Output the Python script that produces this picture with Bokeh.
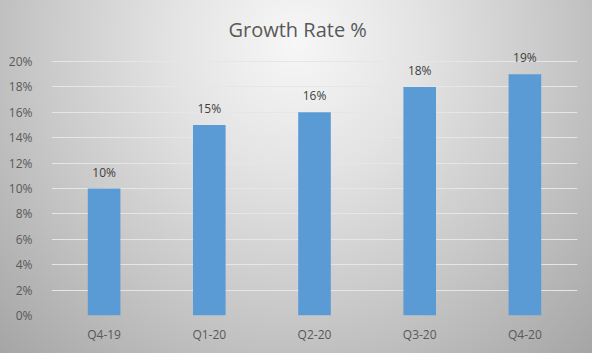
from bokeh.plotting import figure
from bokeh.models import ColumnDataSource, NumeralTickFormatter, Title, LabelSet
from bokeh.core.properties import value
from bokeh.embed import file_html
from bokeh.resources import INLINE

quarters = ["Q4-19", "Q1-20", "Q2-20", "Q3-20", "Q4-20"]
growth = [0.10, 0.15, 0.16, 0.18, 0.19]
labels = ["10%", "15%", "16%", "18%", "19%"]
y_ticks = [0.0, 0.02, 0.04, 0.06, 0.08, 0.10, 0.12, 0.14, 0.16, 0.18, 0.20]

src = ColumnDataSource(dict(q=quarters, g=growth, lab=labels))

FONT = "Open Sans"
GREY = "#595959"

p = figure(x_range=quarters, y_range=(0, 0.2134), width=592, height=353,
           output_backend="svg", toolbar_location=None,
           min_border_left=51, min_border_right=15, min_border_top=44, min_border_bottom=38)
p.styles = {"background": "radial-gradient(ellipse farthest-corner at 50% 12%, #f7f7f7 0%, #e3e3e3 30%, #c8c8c8 62%, #a5a5a5 100%)"}
p.background_fill_alpha = 0
p.border_fill_alpha = 0
p.outline_line_color = None

p.vbar(x="q", top="g", width=0.31, source=src, fill_color="#5b9bd5", line_color=None)
lbls = LabelSet(x="q", y="g", text="lab", source=src, text_align="center", text_baseline="bottom",
                y_offset=8, text_font=value(FONT), text_font_size=value("12px"), text_color=value("#404040"))
p.add_layout(lbls)

t = Title(text="Growth Rate %", align="left", text_font=FONT, text_font_size="20px",
          text_font_style="normal", text_color=GREY, offset=177, standoff=3)
p.add_layout(t, "above")

p.yaxis.ticker = y_ticks
p.yaxis.formatter = NumeralTickFormatter(format="0%")
for ax in (p.xaxis, p.yaxis):
    ax.axis_line_color = None
    ax.major_tick_line_color = None
    ax.minor_tick_line_color = None
    ax.major_label_text_font = FONT
    ax.major_label_text_font_size = "12px"
    ax.major_label_text_color = GREY
p.yaxis.major_label_standoff = 13
p.xaxis.major_label_standoff = 4

p.xgrid.grid_line_color = None
p.ygrid.grid_line_color = "#e6e6e6"
p.ygrid.grid_line_width = 1

open("out.html", "w").write(file_html(p, INLINE))
